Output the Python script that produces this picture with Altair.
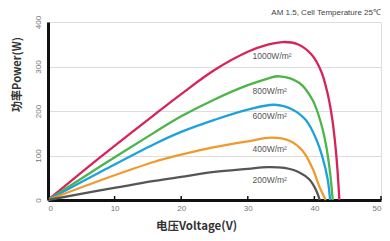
import altair as alt
import pandas as pd

series = ["1000W/m²", "800W/m²", "600W/m²", "400W/m²", "200W/m²"]
colors = ["#d6245a", "#4cb54a", "#1da2dc", "#f09a2e", "#555555"]

v1000 = [0, 8, 16, 20, 25, 30, 33, 35.3, 37.5, 39.5, 41.0, 42.0, 42.7, 43.2, 43.5, 43.75]
p1000 = [0, 98, 192, 238, 292, 333, 349, 355, 350, 328, 290, 238, 180, 115, 60, 0]

v800 = [0, 8, 16, 20, 25, 30, 33, 34.75, 37.75, 39.75, 41.0, 41.75, 42.35, 42.75]
p800 = [0, 77, 152, 188, 226, 258, 273, 278, 263, 224, 172, 123, 62, 0]

v600 = [0, 8, 16, 20, 25, 30, 34, 36.75, 38.75, 40.26, 41.25, 42.0, 42.35]
p600 = [0, 64, 126, 153, 180, 203, 214, 203, 179, 137, 94, 46, 0]

v400 = [0, 8, 16, 20, 25, 30, 33.5, 36.25, 38.25, 39.75, 40.75, 41.7]
p400 = [0, 45, 86, 102, 119, 132, 140, 133, 110, 70, 30, 0]

v200 = [0, 8, 16, 20, 25, 30, 33, 35.5, 37.75, 39.25, 40.26, 40.8]
p200 = [0, 22, 43, 52, 63, 70, 74, 72, 62, 46, 22, 0]

label_v = [30.7, 30.7, 30.7, 30.7, 30.7]
label_p = [324, 246, 188, 115, 45]

x_ticks = [0, 10, 20, 30, 40, 50]
y_ticks = [0, 100, 200, 300, 400]

rows = []
for name, vs, ps in zip(series, [v1000, v800, v600, v400, v200], [p1000, p800, p600, p400, p200]):
    for i, (v, p) in enumerate(zip(vs, ps)):
        rows.append({"series": name, "V": v, "P": p, "order": i})
df = pd.DataFrame(rows)
lab = pd.DataFrame({"series": series, "V": label_v, "P": label_p})
ticks = pd.DataFrame({"V": x_ticks})

xs = alt.Scale(domain=[0, 50], nice=False)
ys = alt.Scale(domain=[0, 400], nice=False)

lines = alt.Chart(df).mark_line(strokeWidth=2.3, interpolate="catmull-rom").encode(
    x=alt.X("V:Q", scale=xs, axis=alt.Axis(
        values=x_ticks, grid=False, ticks=False, domainColor="#111111", domainWidth=3,
        labelColor="#777777", labelFontSize=8, labelPadding=4, labelFont="Liberation Sans",
        title="电压Voltage(V)", titleFontSize=11.5, titleFont="Noto Sans CJK SC",
        titleFontWeight="bold", titleColor="#333333", titleX=148, titleY=26,
        titleBaseline="middle", titleAnchor="start", titleAlign="center")),
    y=alt.Y("P:Q", scale=ys, axis=alt.Axis(
        values=y_ticks, grid=True, gridColor="#dddddd", gridWidth=1, ticks=False,
        domainColor="#111111", domainWidth=3, labelAngle=270, labelAlign="center",
        labelBaseline="bottom", labelPadding=6, labelColor="#777777", labelFontSize=8,
        labelFont="Liberation Sans",
        title="功率Power(W)", titleFontSize=11, titleFont="Noto Sans CJK SC",
        titleFontWeight="bold", titleColor="#333333", titleX=-31, titleY=52,
        titleAngle=270, titleAlign="center", titleBaseline="middle")),
    color=alt.Color("series:N", scale=alt.Scale(domain=series, range=colors), legend=None),
    detail="series:N",
    order="order:Q",
)

labels = alt.Chart(lab).mark_text(align="left", baseline="middle", fontSize=8.5,
                                  color="#555555", font="Liberation Sans").encode(
    x=alt.X("V:Q", scale=xs), y=alt.Y("P:Q", scale=ys), text="series:N")

tickmarks = alt.Chart(ticks).mark_rule(color="#111111", strokeWidth=1.5).encode(
    x=alt.X("V:Q", scale=xs), y=alt.value(174), y2=alt.value(178))

subtitle = alt.Chart(pd.DataFrame({"t": ["AM 1.5, Cell Temperature 25℃"]})).mark_text(
    align="right", baseline="middle", fontSize=8, color="#444444", font="Liberation Sans").encode(
    x=alt.value(333), y=alt.value(-9), text="t:N")

chart = alt.layer(lines, labels, tickmarks, subtitle).properties(
    width=333, height=178, autosize="none",
    padding={"left": 40, "top": 14, "right": 1, "bottom": 33},
).configure_view(stroke="#dddddd", strokeWidth=1).configure(background="white")

chart.save("out.html", embed_options={"renderer": "svg", "actions": False})
